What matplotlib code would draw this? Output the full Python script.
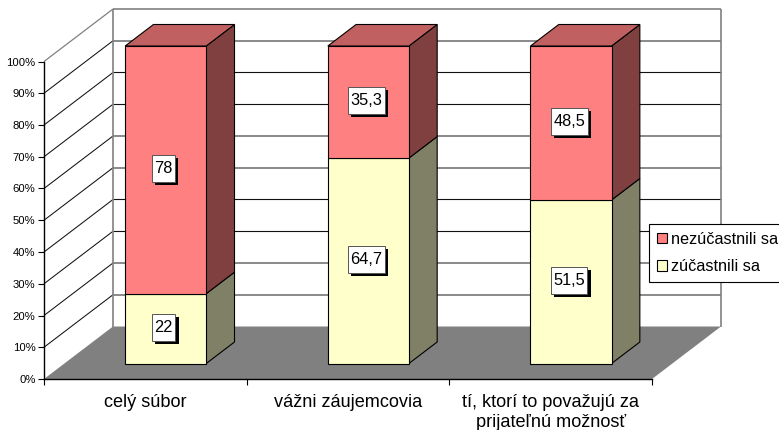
import matplotlib
matplotlib.use("Agg")
import matplotlib.pyplot as plt
from matplotlib.patches import Polygon, Patch
from matplotlib.path import Path
from matplotlib import patheffects as pe

plt.rcParams['font.family'] = ['Liberation Sans', 'DejaVu Sans']

categories = ["celý súbor", "vážni záujemcovia", "tí, ktorí to považujú za\nprijateľnú možnosť"]
took_part = [22, 64.7, 51.5]
not_took_part = [78, 35.3, 48.5]
series_names = ["zúčastnili sa", "nezúčastnili sa"]
y_ticks = list(range(0, 101, 10))
soft_grid = [10, 20, 50, 60, 90]

W, H = 779, 430
fig = plt.figure(figsize=(W / 100, H / 100), dpi=100, facecolor='white')
L, R, B, T = 44, 652, 379, 61.5
ax = fig.add_axes([L / W, 1 - B / H, (R - L) / W, (B - T) / H])
ax.set_xlim(0, 3)
ax.set_ylim(0, 100)
ax.patch.set_visible(False)

# oblique depth: shift per unit of depth, in data units
DX = 69 / ((R - L) / 3)
DY = 52.5 / ((B - T) / 100)
BAR_W = 0.40
D0, D1 = 0.295, 0.705


def P(c, v, d=0.0):
    return (c + d * DX, v + d * DY)


def poly(pts, fc, ec='black', lw=0.8, z=2):
    ax.add_patch(Polygon(pts, closed=True, facecolor=fc, edgecolor=ec, linewidth=lw,
                         zorder=z, clip_on=False, joinstyle='miter'))


def line(a, b, color='black', lw=0.8, z=1.5):
    ax.plot([a[0], b[0]], [a[1], b[1]], color=color, lw=lw, zorder=z, clip_on=False,
            solid_capstyle='butt')


def label_box(x0, y0, width, height, mutation_size):
    # data-label frame: tight at the sides, roomy above and below (pixels)
    px, py = 2.5, 6.0
    l, r, b, t = x0 - px, x0 + width + px, y0 - py, y0 + height + py
    return Path([(l, b), (r, b), (r, t), (l, t), (l, b)], closed=True)


# walls and floor
poly([P(0, 0, 0), P(0, 100, 0), P(0, 100, 1), P(0, 0, 1)], 'white', ec='none', z=1)
poly([P(0, 0, 1), P(0, 100, 1), P(3, 100, 1), P(3, 0, 1)], 'white', ec='none', z=1)
for v in y_ticks[1:-1]:
    line(P(0, v, 0), P(0, v, 1), color='#111111', lw=0.75)
    if v in soft_grid:
        line(P(0, v, 1), P(3, v, 1), color='#6a6a6a', lw=1.1)
    else:
        line(P(0, v, 1), P(3, v, 1), color='#111111', lw=0.8)
GR = '#808080'
line(P(0, 100, 0), P(0, 100, 1), color=GR, lw=0.9)
line(P(0, 100, 1), P(3, 100, 1), color=GR, lw=1.2)
line(P(0, 0, 1), P(0, 100, 1), color=GR, lw=1.2)
line(P(3, 0, 1), P(3, 100, 1), color=GR, lw=1.2)
poly([P(0, 0, 0), P(3, 0, 0), P(3, 0, 1), P(0, 0, 1)], '#808080', ec='none', z=1.8)

# stacked bars
styles = [('#FFFFCC', '#808066'), ('#FF8080', '#804040')]
for i in range(len(categories)):
    x0, x1 = i + 0.5 - BAR_W / 2, i + 0.5 + BAR_W / 2
    base = 0
    for vals, (front, side) in zip((took_part, not_took_part), styles):
        top = base + vals[i]
        poly([P(x1, base, D0), P(x1, top, D0), P(x1, top, D1), P(x1, base, D1)], side)
        poly([P(x0, base, D0), P(x1, base, D0), P(x1, top, D0), P(x0, top, D0)], front)
        text = f"{vals[i]:g}".replace('.', ',')
        cx, cy = P(i + 0.5, base + vals[i] / 2, D0)
        t = ax.annotate(text, (cx, cy), xytext=(-1.4, 0.8), textcoords='offset points',
                        ha='center', va='center', fontsize=11.8, color='black', zorder=6,
                        annotation_clip=False,
                        bbox=dict(boxstyle=label_box, fc='white', ec='#555555', lw=0.7))
        t.get_bbox_patch().set_path_effects([
            pe.SimplePatchShadow(offset=(2.2, -2.2), shadow_rgbFace='black', alpha=1.0),
            pe.Normal()])
        base = top
    poly([P(x0, base, D0), P(x1, base, D0), P(x1, base, D1), P(x0, base, D1)], '#C06060')

# axes
for s in ('top', 'right'):
    ax.spines[s].set_visible(False)
for s in ('left', 'bottom'):
    ax.spines[s].set_linewidth(1.0)
    ax.spines[s].set_zorder(3)
ax.set_yticks(y_ticks)
ax.set_yticklabels([f"{v}%" for v in y_ticks], fontsize=8.1)
ax.tick_params(axis='y', length=4.6, width=0.8, pad=1.5)
ax.set_xticks([0, 1, 2, 3])
ax.set_xticklabels([])
ax.tick_params(axis='x', which='major', length=4.4, width=0.8)
ax.set_xticks([0.5, 1.5, 2.5], minor=True)
ax.set_xticklabels(categories, minor=True, fontsize=13.1, linespacing=1.2)
ax.tick_params(axis='x', which='minor', length=0, pad=10.8)

# legend
handles = [Patch(facecolor='#FF8080', edgecolor='black', linewidth=0.8, label=series_names[1]),
           Patch(facecolor='#FFFFCC', edgecolor='black', linewidth=0.8, label=series_names[0])]
leg = fig.legend(handles=handles, loc='upper left',
                 bbox_to_anchor=(648.5 / W, 1 - 223.5 / H), bbox_transform=fig.transFigure,
                 fontsize=11.7, frameon=True, fancybox=False, edgecolor='black', framealpha=1,
                 borderaxespad=0, borderpad=0.5, labelspacing=0.78, handlelength=0.62,
                 handleheight=0.62, handletextpad=0.25)
leg.get_frame().set_linewidth(0.8)
leg.set_zorder(10)

fig.savefig('out.png', dpi=100)
